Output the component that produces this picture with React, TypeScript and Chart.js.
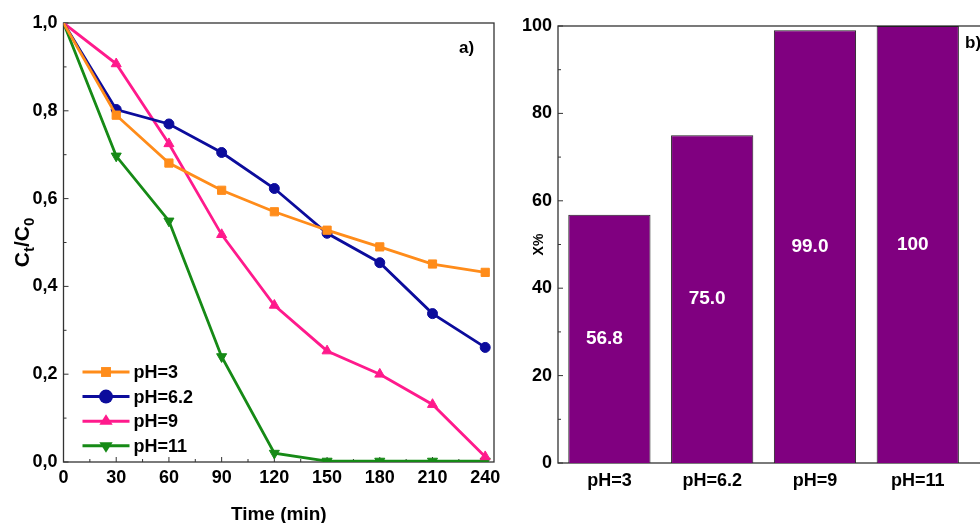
import React, { useEffect, useRef } from "react";
import { Chart, registerables } from "chart.js";

Chart.register(...registerables);

const FONT = '"Liberation Sans", Arial, Helvetica, sans-serif';

// ---- Data: panel a) ----
const timeMin = [0, 30, 60, 90, 120, 150, 180, 210, 240];
const ratioPH3 = [1.0, 0.79, 0.681, 0.619, 0.57, 0.528, 0.49, 0.451, 0.432];
const ratioPH62 = [1.0, 0.803, 0.77, 0.705, 0.623, 0.521, 0.454, 0.338, 0.261];
const ratioPH9 = [1.0, 0.907, 0.725, 0.518, 0.357, 0.253, 0.2, 0.131, 0.012];
const ratioPH11 = [1.0, 0.697, 0.549, 0.24, 0.02, 0.002, 0.002, 0.002, 0.002];
const seriesNames = ["pH=3", "pH=6.2", "pH=9", "pH=11"];
const timeTicks = [0, 30, 60, 90, 120, 150, 180, 210, 240];
const ratioTicks = [0, 0.2, 0.4, 0.6, 0.8, 1.0];

// ---- Data: panel b) ----
const barCategories = ["pH=3", "pH=6.2", "pH=9", "pH=11"];
const removalPercent = [56.8, 75.0, 99.0, 100];
const removalLabels = ["56.8", "75.0", "99.0", "100"];
const percentTicks = [0, 20, 40, 60, 80, 100];

// ---- Styles ----
const seriesColors = ["#FF8C1A", "#0C0C9C", "#FF1A8C", "#168A16"];
const seriesPointStyles = ["rect", "circle", "triangle", "triangle"];
const seriesPointRotation = [0, 0, 0, 180];
const seriesPointRadius = [5.8, 5, 5.8, 5.8];
const BAR_COLOR = "#800080";
const FRAME = "#333333";

function midpoints(arr: number[]) {
  const out: number[] = [];
  for (let i = 0; i < arr.length - 1; i++) out.push((arr[i] + arr[i + 1]) / 2);
  return out;
}

function drawMarker(ctx: CanvasRenderingContext2D, style: string, rot: number, x: number, y: number, r: number) {
  ctx.beginPath();
  if (style === "rect") {
    const s = r * Math.SQRT1_2;
    ctx.rect(x - s, y - s, 2 * s, 2 * s);
  } else if (style === "circle") {
    ctx.arc(x, y, r, 0, Math.PI * 2);
  } else {
    const dir = rot === 180 ? -1 : 1;
    const h = r * 1.5;
    ctx.moveTo(x, y - dir * r);
    ctx.lineTo(x - r * 0.95, y + dir * (h - r));
    ctx.lineTo(x + r * 0.95, y + dir * (h - r));
    ctx.closePath();
  }
  ctx.fill();
}

function drawFrameAndTicks(
  chart: any,
  xMajor: number[],
  xMinor: number[],
  yMajor: number[],
  yMinor: number[]
) {
  const { ctx, chartArea: a, scales } = chart;
  ctx.save();
  ctx.strokeStyle = FRAME;
  ctx.lineWidth = 1.3;
  ctx.strokeRect(a.left, a.top, a.right - a.left, a.bottom - a.top);
  ctx.lineWidth = 1;
  ctx.beginPath();
  xMajor.forEach((v) => {
    const px = scales.x.getPixelForValue(v);
    ctx.moveTo(px, a.bottom);
    ctx.lineTo(px, a.bottom - 5);
  });
  xMinor.forEach((v) => {
    const px = scales.x.getPixelForValue(v);
    ctx.moveTo(px, a.bottom);
    ctx.lineTo(px, a.bottom - 3);
  });
  yMajor.forEach((v) => {
    const py = scales.y.getPixelForValue(v);
    ctx.moveTo(a.left, py);
    ctx.lineTo(a.left + 5, py);
  });
  yMinor.forEach((v) => {
    const py = scales.y.getPixelForValue(v);
    ctx.moveTo(a.left, py);
    ctx.lineTo(a.left + 3, py);
  });
  ctx.stroke();
  ctx.restore();
}

function LineChart() {
  const ref = useRef<HTMLCanvasElement | null>(null);
  useEffect(() => {
    if (!ref.current) return;
    const seriesValues = [ratioPH3, ratioPH62, ratioPH9, ratioPH11];
    const plugin = {
      id: "panelA",
      beforeDatasetsDraw(chart: any) {
        drawFrameAndTicks(chart, timeTicks, midpoints(timeTicks), ratioTicks, midpoints(ratioTicks));
      },
      afterDraw(chart: any) {
        const { ctx, chartArea: a } = chart;
        ctx.save();
        // legend
        seriesNames.forEach((name, i) => {
          const y = a.bottom - 90 + i * 24.6;
          const x0 = a.left + 19;
          const x1 = a.left + 66;
          ctx.strokeStyle = seriesColors[i];
          ctx.fillStyle = seriesColors[i];
          ctx.lineWidth = 3;
          ctx.beginPath();
          ctx.moveTo(x0, y);
          ctx.lineTo(x1, y);
          ctx.stroke();
          drawMarker(ctx, seriesPointStyles[i], seriesPointRotation[i], (x0 + x1) / 2, y, 7);
          ctx.fillStyle = "#000";
          ctx.font = `bold 18px ${FONT}`;
          ctx.textAlign = "left";
          ctx.textBaseline = "middle";
          ctx.fillText(name, x1 + 4, y + 1);
        });
        // panel label
        ctx.fillStyle = "#000";
        ctx.font = `bold 17px ${FONT}`;
        ctx.textAlign = "left";
        ctx.textBaseline = "alphabetic";
        ctx.fillText("a)", a.right - 35, a.top + 30);
        // x title
        ctx.font = `bold 19px ${FONT}`;
        ctx.textAlign = "center";
        ctx.fillText("Time (min)", (a.left + a.right) / 2, 520);
        // y title Ct/C0
        ctx.translate(22, (a.top + a.bottom) / 2);
        ctx.rotate(-Math.PI / 2);
        const big = `bold 21px ${FONT}`;
        const small = `bold 15px ${FONT}`;
        const parts: [string, string, number][] = [
          ["C", big, 0],
          ["t", small, 5],
          ["/C", big, 0],
          ["0", small, 5],
        ];
        let total = 0;
        parts.forEach(([t, f]) => {
          ctx.font = f;
          total += ctx.measureText(t).width;
        });
        let x = -total / 2;
        ctx.textAlign = "left";
        parts.forEach(([t, f, dy]) => {
          ctx.font = f;
          ctx.fillText(t, x, 7 + dy);
          x += ctx.measureText(t).width;
        });
        ctx.restore();
      },
    };
    const chart = new Chart(ref.current, {
      type: "line",
      data: {
        datasets: seriesValues.map((vals, i) => ({
          label: seriesNames[i],
          data: vals.map((y, j) => ({ x: timeMin[j], y })),
          borderColor: seriesColors[i],
          backgroundColor: seriesColors[i],
          borderWidth: 2.8,
          pointStyle: seriesPointStyles[i] as any,
          pointRotation: seriesPointRotation[i],
          pointRadius: (c: any) => (c.dataIndex === 0 ? 0 : seriesPointRadius[i]),
          pointBorderWidth: 1,
          tension: 0,
        })),
      },
      options: {
        responsive: false,
        animation: false,
        layout: { padding: { top: 23, right: 26, left: 0, bottom: 0 } },
        plugins: { legend: { display: false }, tooltip: { enabled: false } },
        scales: {
          x: {
            type: "linear",
            min: 0,
            max: 245,
            afterBuildTicks: (s: any) => {
              s.ticks = timeTicks.map((v) => ({ value: v }));
            },
            afterFit: (s: any) => {
              s.height = 61;
            },
            ticks: {
              color: "#000",
              font: { family: FONT, size: 18, weight: "bold" },
              padding: 5,
              maxRotation: 0,
              autoSkip: false,
            },
            grid: { display: false, drawTicks: false },
            border: { display: false },
          },
          y: {
            type: "linear",
            min: 0,
            max: 1,
            afterBuildTicks: (s: any) => {
              s.ticks = ratioTicks.map((v) => ({ value: v }));
            },
            afterFit: (s: any) => {
              s.width = 63.5;
            },
            ticks: {
              color: "#000",
              font: { family: FONT, size: 18, weight: "bold" },
              padding: 6,
              callback: (v: any) => Number(v).toFixed(1).replace(".", ","),
            },
            grid: { display: false, drawTicks: false },
            border: { display: false },
          },
        },
      },
      plugins: [plugin],
    } as any);
    return () => chart.destroy();
  }, []);
  return <canvas ref={ref} width={520} height={523} style={{ width: 520, height: 523, display: "block" }} />;
}

function BarChart() {
  const ref = useRef<HTMLCanvasElement | null>(null);
  useEffect(() => {
    if (!ref.current) return;
    const plugin = {
      id: "panelB",
      beforeDatasetsDraw(chart: any) {
        drawFrameAndTicks(chart, [], [], percentTicks, midpoints(percentTicks));
      },
      afterDatasetsDraw(chart: any) {
        const { ctx, chartArea: a } = chart;
        const meta = chart.getDatasetMeta(0);
        ctx.save();
        ctx.fillStyle = "#fff";
        ctx.font = `bold 19px ${FONT}`;
        ctx.textAlign = "center";
        ctx.textBaseline = "middle";
        meta.data.forEach((el: any, i: number) => {
          ctx.fillText(removalLabels[i], el.x - 5, (el.y + el.base) / 2);
        });
        ctx.fillStyle = "#000";
        ctx.font = `bold 17px ${FONT}`;
        ctx.textAlign = "left";
        ctx.textBaseline = "alphabetic";
        ctx.fillText("b)", a.right - 35, a.top + 22);
        // y title
        ctx.translate(48, (a.top + a.bottom) / 2);
        ctx.rotate(-Math.PI / 2);
        ctx.font = `bold 14px ${FONT}`;
        ctx.textAlign = "center";
        ctx.fillText("X%", 0, 5);
        ctx.restore();
      },
    };
    const chart = new Chart(ref.current, {
      type: "bar",
      data: {
        datasets: [
          {
            label: "X%",
            data: removalPercent.map((y, i) => ({ x: i + 1, y })),
            backgroundColor: BAR_COLOR,
            borderColor: "#222",
            borderWidth: 1,
            barPercentage: 0.8,
            categoryPercentage: 1,
          },
        ],
      },
      options: {
        responsive: false,
        animation: false,
        layout: { padding: { top: 26, right: 20, left: 0, bottom: 0 } },
        plugins: { legend: { display: false }, tooltip: { enabled: false } },
        scales: {
          x: {
            type: "linear",
            min: 0.5,
            max: 4.8,
            offset: false,
            afterBuildTicks: (s: any) => {
              s.ticks = barCategories.map((_, i) => ({ value: i + 1 }));
            },
            afterFit: (s: any) => {
              s.height = 60;
            },
            ticks: {
              color: "#000",
              font: { family: FONT, size: 18, weight: "bold" },
              padding: 7,
              maxRotation: 0,
              autoSkip: false,
              callback: (v: any) => barCategories[Math.round(Number(v)) - 1] ?? "",
            },
            grid: { display: false, drawTicks: false },
            border: { display: false },
          },
          y: {
            type: "linear",
            min: 0,
            max: 100,
            afterBuildTicks: (s: any) => {
              s.ticks = percentTicks.map((v) => ({ value: v }));
            },
            afterFit: (s: any) => {
              s.width = 68;
            },
            ticks: {
              color: "#000",
              font: { family: FONT, size: 18, weight: "bold" },
              padding: 6,
            },
            grid: { display: false, drawTicks: false },
            border: { display: false },
          },
        },
      },
      plugins: [plugin],
    } as any);
    return () => chart.destroy();
  }, []);
  return <canvas ref={ref} width={530} height={523} style={{ width: 530, height: 523, display: "block" }} />;
}

export default function App() {
  return (
    <div
      style={{
        position: "fixed",
        left: 0,
        top: 0,
        width: 980,
        height: 523,
        overflow: "hidden",
        background: "#fff",
      }}
    >
      <div style={{ position: "absolute", left: 0, top: 0 }}>
        <LineChart />
      </div>
      <div style={{ position: "absolute", left: 490, top: 0 }}>
        <BarChart />
      </div>
    </div>
  );
}
